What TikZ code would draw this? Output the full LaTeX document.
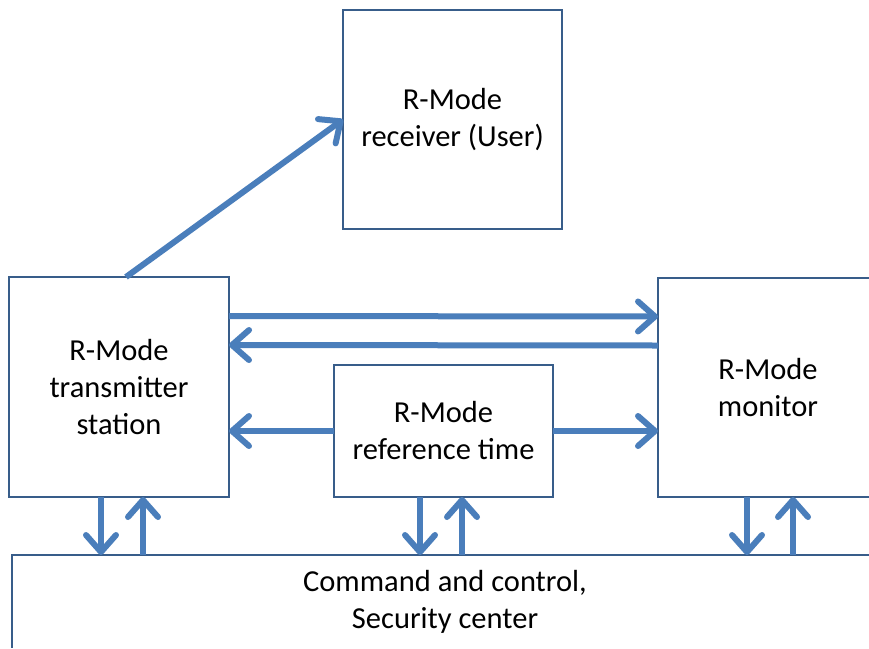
\documentclass[tikz,border=0pt]{standalone}
\usepackage{fontspec}
\setmainfont{Carlito}
\usetikzlibrary{arrows.meta}
\definecolor{arrblue}{HTML}{4A7EBB}
\definecolor{boxblue}{HTML}{385D8A}
\tikzset{
  blk/.style={draw=boxblue, line width=2.6pt, fill=white, align=center, inner sep=0pt, outer sep=0pt,
    font=\fontsize{30.5}{37}\selectfont},
  openblk/.style={align=center, inner sep=0pt, outer sep=0pt, font=\fontsize{30.5}{37}\selectfont},
  frame/.style={draw=boxblue, line width=2.6pt, line cap=butt},
  arr/.style={draw=arrblue, line width=6pt, -{Straight Barb[length=17pt,width=30pt,round]}}
}
\begin{document}
\begin{tikzpicture}[x=1pt,y=1pt]
\useasboundingbox (0,-648) rectangle (869,0);
\fill[white] (0,-648) rectangle (869,0);
% boxes running off the picture: open frames, text node on top
\coordinate (monNW) at (658,-278);
\coordinate (cmdNW) at (12,-555);
\coordinate (monE1) at (869,-278);
\coordinate (monE2) at (869,-497);
\coordinate (cmdE) at (869,-555);
\coordinate (cmdS) at (12,-648);
\draw[frame] (monE1) -- (monNW) -- (658,-497) -- (monE2);
\draw[frame] (cmdE) -- (cmdNW) -- (cmdS);
\node[blk, minimum width=219pt, minimum height=219pt] (rx) at (452.5,-119.5) {R-Mode\\receiver (User)};
\node[blk, minimum width=220pt, minimum height=220pt] (tx) at (119,-387) {R-Mode\\transmitter\\station};
\node[blk, minimum width=219pt, minimum height=132pt] (ref) at (443.5,-431) {R-Mode\\reference time};
\node[openblk, minimum width=220pt, minimum height=219pt] (mon) at (768,-387.5) {R-Mode\\monitor};
\node[openblk, minimum width=866pt, minimum height=94pt] (cmd) at (445,-602) {Command and control,\\Security center};
% links
\draw[arr] ([xshift=7pt]tx.north) -- (rx.west);
\draw[arr] ([yshift=71pt]tx.east) -- ([yshift=71pt]mon.west);
\draw[arr] ([yshift=42pt]mon.west) -- ([yshift=42pt]tx.east);
\draw[arr] (ref.west) -- (tx.east |- ref.west);
\draw[arr] (ref.east) -- (mon.west |- ref.east);
% vertical links to command centre
\coordinate (td) at ([xshift=-18pt]tx.south);
\coordinate (tu) at ([xshift=24pt]tx.south);
\coordinate (rd) at ([xshift=-23.5pt]ref.south);
\coordinate (ru) at ([xshift=18.5pt]ref.south);
\coordinate (md) at ([xshift=-21pt]mon.south);
\coordinate (mu) at ([xshift=25pt]mon.south);
\draw[arr] (td) -- (td |- cmd.north);
\draw[arr] (tu |- cmd.north) -- (tu);
\draw[arr] (rd) -- (rd |- cmd.north);
\draw[arr] (ru |- cmd.north) -- (ru);
\draw[arr] (md) -- (md |- cmd.north);
\draw[arr] (mu |- cmd.north) -- (mu);
\end{tikzpicture}
\end{document}
